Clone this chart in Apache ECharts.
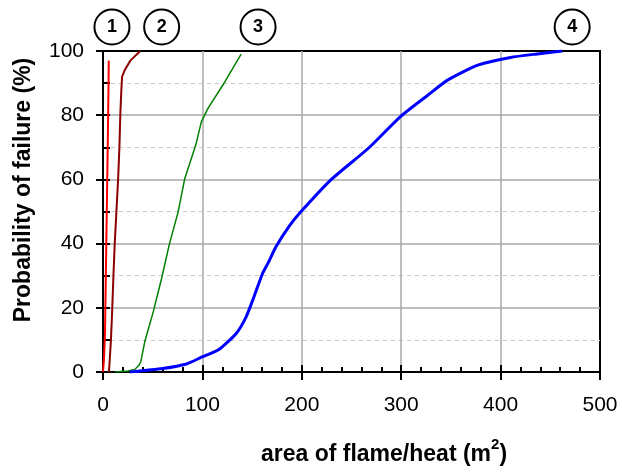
<!DOCTYPE html>
<html>
<head>
<meta charset="utf-8">
<script src="https://cdn.jsdelivr.net/npm/echarts@6/dist/echarts.min.js"></script>
<style>
  html, body { margin: 0; padding: 0; background: #fff; }
  #chart { width: 622px; height: 472px; }
</style>
</head>
<body>
<div id="chart"></div>
<script>
// curve 1 (red)
const curve1X = [0, 1, 2, 2.8, 3.8, 4.8, 5.5, 5.8];
const curve1Y = [0, 4, 12, 29, 50, 71, 88, 97];
// curve 2 (dark red)
const curve2X = [6, 8, 9.2, 10.5, 11.8, 13.5, 15.2, 16.5, 17.5, 18.5, 19.2, 21.8, 27.5, 37.5];
const curve2Y = [0, 10, 19, 30, 40, 50, 60, 70, 81, 88, 92, 94, 97, 100];
// curve 3 (green)
const curve3X = [12, 25, 32, 36, 38, 42, 50.6, 59, 66.6, 75.6, 82.3, 93.3, 99, 105.6, 120.6, 139];
const curve3Y = [0, 0.3, 0.8, 2, 3.2, 9.4, 18.8, 29.2, 39.6, 49.9, 60.3, 70.7, 78, 82.1, 89.4, 99];
// curve 4 (blue)
const curve4X = [27, 60, 84, 99, 117, 134, 144, 152, 160.5, 166, 174, 187, 199, 229, 267, 299, 327, 347, 377, 410, 437, 462];
const curve4Y = [0, 1.1, 2.5, 4.6, 7.1, 12, 17.2, 23.5, 30.7, 33.9, 39, 45.3, 49.9, 59.8, 69.7, 79.5, 86.3, 91, 95.6, 98, 99.1, 100];

// circled curve numbers above the plot
const circleLabels = ["1", "2", "3", "4"];
const circleX = [9, 59, 156, 472];

const colors = ["#ff0000", "#8b0000", "#008000", "#0000ff"];
const widths = [2, 2, 1.5, 3];
const curves = [[curve1X, curve1Y], [curve2X, curve2Y], [curve3X, curve3Y], [curve4X, curve4Y]];

const font = "Liberation Sans, Arial, sans-serif";

// x-axis title pieces (superscript measured so it sits right after "m")
const titleMain = "area of flame/heat (m";
const titleSup = "2";
const titleEnd = ")";
const ctx = document.createElement("canvas").getContext("2d");
ctx.font = "bold 23px " + font;
const wMain = ctx.measureText(titleMain).width;
const wEnd = ctx.measureText(titleEnd).width;
ctx.font = "bold 15px " + font;
const wSup = ctx.measureText(titleSup).width;
const titleLeft = 384 - (wMain + wSup + wEnd) / 2;

const chart = echarts.init(document.getElementById("chart"));

const series = curves.map(function (c, i) {
  return {
    type: "line",
    xAxisIndex: 0,
    yAxisIndex: 0,
    data: c[0].map(function (x, k) { return [x, c[1][k]]; }),
    showSymbol: false,
    smooth: i == 3 ? 0.2 : false,
    lineStyle: { color: colors[i], width: widths[i] },
    itemStyle: { color: colors[i] },
    z: 3,
    markPoint: {
      symbol: "circle",
      symbolSize: 35,
      symbolOffset: [0, -24],
      itemStyle: { color: "#fff", borderColor: "#000", borderWidth: 2 },
      label: {
        show: true,
        formatter: circleLabels[i],
        color: "#000",
        fontWeight: "bold",
        fontSize: 18,
        fontFamily: font
      },
      data: [{ coord: [circleX[i], 100] }]
    }
  };
});

const option = {
  animation: false,
  grid: {
    left: 103, right: 22, top: 51, bottom: 100,
    show: true, borderColor: "#000", borderWidth: 2
  },
  xAxis: [
    {
      type: "value", min: 0, max: 500, interval: 100,
      axisLine: { lineStyle: { color: "#000", width: 2 } },
      axisTick: { inside: true, length: 7, lineStyle: { color: "#000", width: 2 } },
      minorTick: { show: true, splitNumber: 5, length: 5, lineStyle: { color: "#000", width: 2 } },
      axisLabel: { color: "#000", fontSize: 21, fontFamily: font, margin: 23 },
      splitLine: { showMinLine: false, showMaxLine: false, lineStyle: { color: "#a8a8a8", width: 1.5 } }
    },
    {
      type: "value", min: 0, max: 500, interval: 100, position: "bottom",
      axisLine: { show: false },
      axisTick: { inside: false, length: 8, lineStyle: { color: "#000", width: 2 } },
      axisLabel: { show: false },
      splitLine: { show: false }
    }
  ],
  yAxis: [
    {
      type: "value", min: 0, max: 100, interval: 20,
      axisLine: { lineStyle: { color: "#000", width: 2 } },
      axisTick: { inside: true, length: 7, lineStyle: { color: "#000", width: 2 } },
      minorTick: { show: true, splitNumber: 2, length: 7, lineStyle: { color: "#000", width: 2 } },
      axisLabel: { color: "#000", fontSize: 21, fontFamily: font, margin: 19 },
      splitLine: { showMinLine: false, showMaxLine: false, lineStyle: { color: "#a8a8a8", width: 1.5 } },
      minorSplitLine: { show: true, lineStyle: { color: "#c8c8c8", type: [4, 4], width: 1 } }
    },
    {
      type: "value", min: 0, max: 100, interval: 20, position: "left",
      axisLine: { show: false },
      axisTick: { inside: false, length: 7, lineStyle: { color: "#000", width: 2 } },
      axisLabel: { show: false },
      splitLine: { show: false }
    }
  ],
  graphic: [
    {
      type: "text",
      x: titleLeft, y: 455,
      style: { text: titleMain, font: "bold 23px " + font, fill: "#000", align: "left", verticalAlign: "middle" }
    },
    {
      type: "text",
      x: titleLeft + wMain, y: 445,
      style: { text: titleSup, font: "bold 15px " + font, fill: "#000", align: "left", verticalAlign: "middle" }
    },
    {
      type: "text",
      x: titleLeft + wMain + wSup, y: 455,
      style: { text: titleEnd, font: "bold 23px " + font, fill: "#000", align: "left", verticalAlign: "middle" }
    },
    {
      type: "text",
      x: 24, y: 190,
      rotation: Math.PI / 2,
      style: {
        text: "Probability of failure (%)",
        font: "bold 23px " + font,
        fill: "#000",
        align: "center",
        verticalAlign: "middle"
      }
    }
  ],
  series: series
};

chart.setOption(option);
</script>
</body>
</html>
